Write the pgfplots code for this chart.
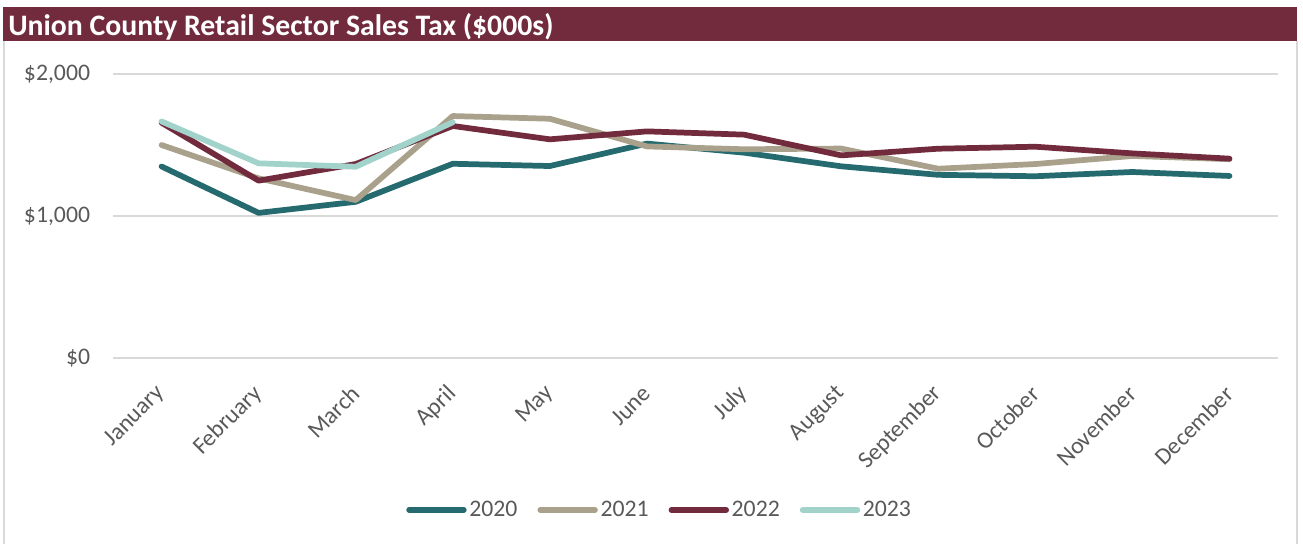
\documentclass[border=0pt]{standalone}
\usepackage{pgfplots}
\pgfplotsset{compat=1.18}
\usepackage{fontspec}
\setmainfont{Carlito}
\definecolor{c2020}{HTML}{256A6E}
\definecolor{c2021}{HTML}{A9A18B}
\definecolor{c2022}{HTML}{722B3D}
\definecolor{c2023}{HTML}{A1D3CB}
\definecolor{txt}{HTML}{595959}
\definecolor{gridc}{HTML}{D9D9D9}

\begin{document}
\begin{tikzpicture}
\begin{scope}[x=0.75pt,y=-0.75pt]
  \path[use as bounding box] (0,0) rectangle (1303,544);
  \fill[c2022] (3,7) rectangle (1297,41);
  \node[anchor=base west, text=white, inner sep=0pt,
        font=\bfseries\fontsize{22.3}{26}\selectfont] at (8,35)
        {Union County Retail Sector Sales Tax (\$000s)};
  \draw[gridc, line width=1.2pt] (4,41) -- (4,544);
  \draw[gridc, line width=1.2pt] (1297,41) -- (1297,544);
\end{scope}

\begin{axis}[
    at={(84.75pt,-268.5pt)}, anchor=south west,
    scale only axis, width=873.75pt, height=213pt,
    xmin=-0.5, xmax=11.5, ymin=0, ymax=2000,
    clip=false,
    axis line style={draw=none},
    major tick length=0pt,
    ymajorgrids, grid style={gridc, line width=1.1pt},
    xtick={0,...,11},
    xticklabels={January,February,March,April,May,June,July,August,September,October,November,December},
    ytick={0,1000,2000},
    yticklabels={{\$0},{\$1,000},{\$2,000}},
    tick label style={font=\fontsize{17.8}{20}\selectfont, text=txt},
    yticklabel style={anchor=east, inner sep=0pt, xshift=-17pt},
    xticklabel style={rotate=45, anchor=east, inner sep=0pt, yshift=-17pt, xshift=-17pt},
    legend columns=4,
    legend style={at={(0.4695,-0.535)}, anchor=center, draw=none, fill=none,
        font=\fontsize{17.8}{20}\selectfont, text=txt,
        /tikz/every even column/.append style={column sep=13pt}},
    legend image code/.code={\draw[#1] (0pt,0pt) -- (41pt,0pt);},
    every axis plot/.append style={line width=4.3pt, line cap=round, line join=round},
]
\addplot[c2020] coordinates {
  (0,1349) (1,1022) (2,1100) (3,1368) (4,1352) (5,1510)
  (6,1446) (7,1350) (8,1290) (9,1280) (10,1310) (11,1282)};
\addlegendentry{2020}
\addplot[c2021] coordinates {
  (0,1500) (1,1265) (2,1112) (3,1704) (4,1685) (5,1490)
  (6,1470) (7,1475) (8,1333) (9,1366) (10,1423) (11,1400)};
\addlegendentry{2021}
\addplot[c2022] coordinates {
  (0,1657) (1,1249) (2,1366) (3,1634) (4,1540) (5,1596)
  (6,1573) (7,1427) (8,1474) (9,1488) (10,1441) (11,1404)};
\addlegendentry{2022}
\addplot[c2023] coordinates {
  (0,1666) (1,1371) (2,1347) (3,1660)};
\addlegendentry{2023}
\end{axis}
\end{tikzpicture}
\end{document}
